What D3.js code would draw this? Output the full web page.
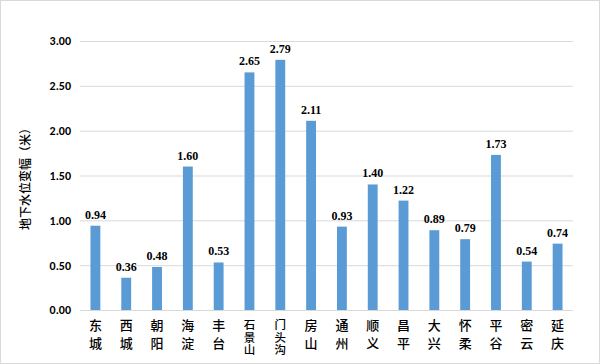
<!DOCTYPE html>
<html><head><meta charset="utf-8">
<script src="https://cdn.jsdelivr.net/npm/d3@7"></script>
<style>body{margin:0;background:#fff}</style>
</head><body><svg id="c" width="600" height="364"></svg>
<script>
const categories = ["东城","西城","朝阳","海淀","丰台","石景山","门头沟","房山","通州","顺义","昌平","大兴","怀柔","平谷","密云","延庆"];
const values = [0.94,0.36,0.48,1.60,0.53,2.65,2.79,2.11,0.93,1.40,1.22,0.89,0.79,1.73,0.54,0.74];
const yTicks = [0,0.5,1,1.5,2,2.5,3];
const yTitle = "地下水位变幅（米）";

const svg = d3.select("#c");
svg.append("rect").attr("x",0.5).attr("y",0.5).attr("width",599).attr("height",363)
  .attr("fill","#fff").attr("stroke","#d9d9d9");
const m = {left:80, right:573, top:41, bottom:310};
const x = d3.scaleBand().domain(categories).range([m.left,m.right]).paddingInner(0.68).paddingOuter(0.34);
const y = d3.scaleLinear().domain([0,3]).range([m.bottom,m.top]);

const ya = d3.axisLeft(y).tickValues(yTicks).tickFormat(d3.format(".2f")).tickSize(-(m.right-m.left)).tickPadding(9);
const gy = svg.append("g").attr("transform",`translate(${m.left},0)`).call(ya);
gy.select(".domain").remove();
gy.selectAll(".tick line").attr("stroke","#d9d9d9");
gy.selectAll(".tick text").attr("font-family","Carlito, 'Liberation Sans', sans-serif").attr("font-weight","bold").attr("font-size",12).attr("fill","#000");

svg.selectAll("rect.bar").data(values).enter().append("rect").attr("class","bar")
  .attr("x",(d,i)=>x(categories[i])).attr("width",x.bandwidth())
  .attr("y",d=>y(d)).attr("height",d=>y(0)-y(d)).attr("fill","#5b9bd5");

svg.selectAll("text.val").data(values).enter().append("text").attr("class","val")
  .attr("x",(d,i)=>x(categories[i])+x.bandwidth()/2).attr("y",d=>y(d)-7)
  .attr("text-anchor","middle").attr("font-family","'Liberation Serif', serif").attr("font-weight","bold")
  .attr("font-size",12).attr("fill","#000").text(d=>d3.format(".2f")(d));

const gx = svg.append("g");
categories.forEach(c=>{
  const cx = x(c)+x.bandwidth()/2;
  const n = [...c].length;
  const fs = n>2 ? 11.5 : 13;
  const ls = n>2 ? 1 : 5;
  gx.append("text").attr("x",cx).attr("y",319)
    .style("writing-mode","vertical-rl").style("text-orientation","upright")
    .attr("font-family","'Noto Sans CJK SC', sans-serif").attr("font-weight",500)
    .attr("font-size",fs).attr("letter-spacing",ls).attr("fill","#000").text(c);
});

svg.append("text").attr("transform","translate(30,176) rotate(-90)").attr("text-anchor","middle")
  .attr("font-family","'Noto Sans CJK SC', sans-serif").attr("font-weight",500).attr("font-size",12).attr("fill","#000").text(yTitle);
</script></body></html>
